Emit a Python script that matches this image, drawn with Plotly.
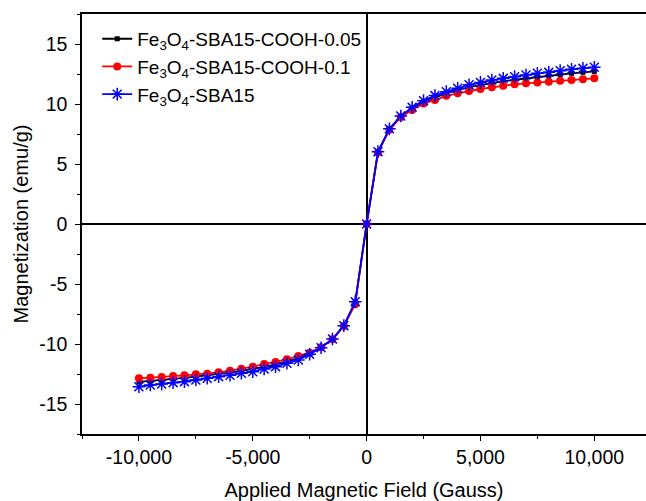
import plotly.graph_objs as go

width = 646
height = 501

field = [-10000, -9500, -9000, -8500, -8000, -7500, -7000, -6500, -6000, -5500,
         -5000, -4500, -4000, -3500, -3000, -2500, -2000, -1500, -1000, -500,
         0, 500, 1000, 1500, 2000, 2500, 3000, 3500, 4000, 4500,
         5000, 5500, 6000, 6500, 7000, 7500, 8000, 8500, 9000, 9500, 10000]

m_cooh_005 = [-13.15, -13.05, -12.98, -12.90, -12.82, -12.72, -12.62, -12.50, -12.38, -12.24,
              -12.10, -11.90, -11.70, -11.45, -11.18, -10.80, -10.30, -9.60, -8.50, -6.55,
              0.0, 6.00, 7.90, 8.95, 9.62, 10.18, 10.55, 10.90, 11.15, 11.40,
              11.58, 11.75, 11.90, 12.02, 12.14, 12.26, 12.36, 12.46, 12.56, 12.64, 12.72]

m_cooh_01 = [-12.86, -12.81, -12.75, -12.67, -12.61, -12.53, -12.47, -12.36, -12.22, -12.06,
             -11.89, -11.67, -11.50, -11.28, -11.00, -10.72, -10.28, -9.61, -8.50, -6.69,
             0.0, 5.95, 7.85, 8.90, 9.50, 10.05, 10.33, 10.68, 10.89, 11.08,
             11.25, 11.39, 11.53, 11.64, 11.72, 11.80, 11.86, 11.94, 12.00, 12.06, 12.14]

m_sba15 = [-13.56, -13.42, -13.33, -13.22, -13.14, -13.00, -12.86, -12.72, -12.60, -12.44,
           -12.31, -12.08, -11.89, -11.61, -11.33, -10.86, -10.31, -9.58, -8.47, -6.47,
           0.0, 6.03, 7.93, 9.00, 9.72, 10.28, 10.70, 11.03, 11.31, 11.60,
           11.80, 12.00, 12.14, 12.28, 12.42, 12.56, 12.64, 12.78, 12.89, 12.97, 13.06]

names = ["Fe<sub>3</sub>O<sub>4</sub>-SBA15-COOH-0.05",
         "Fe<sub>3</sub>O<sub>4</sub>-SBA15-COOH-0.1",
         "Fe<sub>3</sub>O<sub>4</sub>-SBA15"]

x_ticks = [-10000, -5000, 0, 5000, 10000]
x_ticktext = ["-10,000", "-5,000", "0", "5,000", "10,000"]
y_ticks = [-15, -10, -5, 0, 5, 10, 15]
y_ticktext = ["-15", "-10", "-5", "0", "5", "10", "15"]

font = "Liberation Sans, Arial, sans-serif"

black = go.Scatter(x=field, y=m_cooh_005, name=names[0], mode='lines+markers',
                   line=dict(color='black', width=1.8),
                   marker=dict(symbol='square', size=5, color='black'))
red = go.Scatter(x=field, y=m_cooh_01, name=names[1], mode='lines+markers',
                 line=dict(color='#ff0000', width=1.8),
                 marker=dict(symbol='circle', size=8, color='#ff0000'))
blue = go.Scatter(x=field, y=m_sba15, name=names[2], mode='lines+markers',
                  line=dict(color='#0000ff', width=1.8),
                  marker=dict(symbol='asterisk-open', size=10.5,
                              line=dict(color='#0000ff', width=1.5)))

axis_common = dict(
    showgrid=False,
    showline=True,
    linecolor='black',
    linewidth=1.5,
    ticks='outside',
    ticklen=5,
    tickwidth=1.2,
    tickcolor='black',
    zeroline=True,
    zerolinecolor='black',
    zerolinewidth=1.5,
    automargin=False,
    tickfont=dict(family=font, size=19.5, color='black'),
)

layout = go.Layout(
    width=width,
    height=height,
    margin=dict(l=82, r=0, t=14, b=67),
    plot_bgcolor='white',
    paper_bgcolor='white',
    font=dict(family=font, size=18, color='black'),
    xaxis=dict(
        axis_common,
        range=[-12500, 12270],
        tickvals=x_ticks,
        ticktext=x_ticktext,
        mirror=True,
        minor=dict(ticks='outside', ticklen=3, dtick=2500, tick0=0, tickcolor='black'),
        title=dict(text='Applied Magnetic Field (Gauss)', font=dict(size=20), standoff=19),
    ),
    yaxis=dict(
        axis_common,
        range=[-17.5, 17.5],
        tickvals=y_ticks,
        ticktext=y_ticktext,
        ticklabelstandoff=4,
        mirror=False,
        minor=dict(ticks='outside', ticklen=3, dtick=2.5, tick0=0, tickcolor='black'),
        title=dict(text='Magnetization (emu/g)', font=dict(size=20), standoff=5),
    ),
    legend=dict(
        x=0.027,
        y=0.986,
        xanchor='left',
        yanchor='top',
        bgcolor='rgba(0,0,0,0)',
        font=dict(family=font, size=19),
        tracegroupgap=0,
    ),
)

fig = go.Figure(data=[black, red, blue], layout=layout)
# drop the default body margin so the figure sits at the page corner
fig.write_html("out.html", config={'displayModeBar': False},
               post_script="document.body.style.margin='0px';")
